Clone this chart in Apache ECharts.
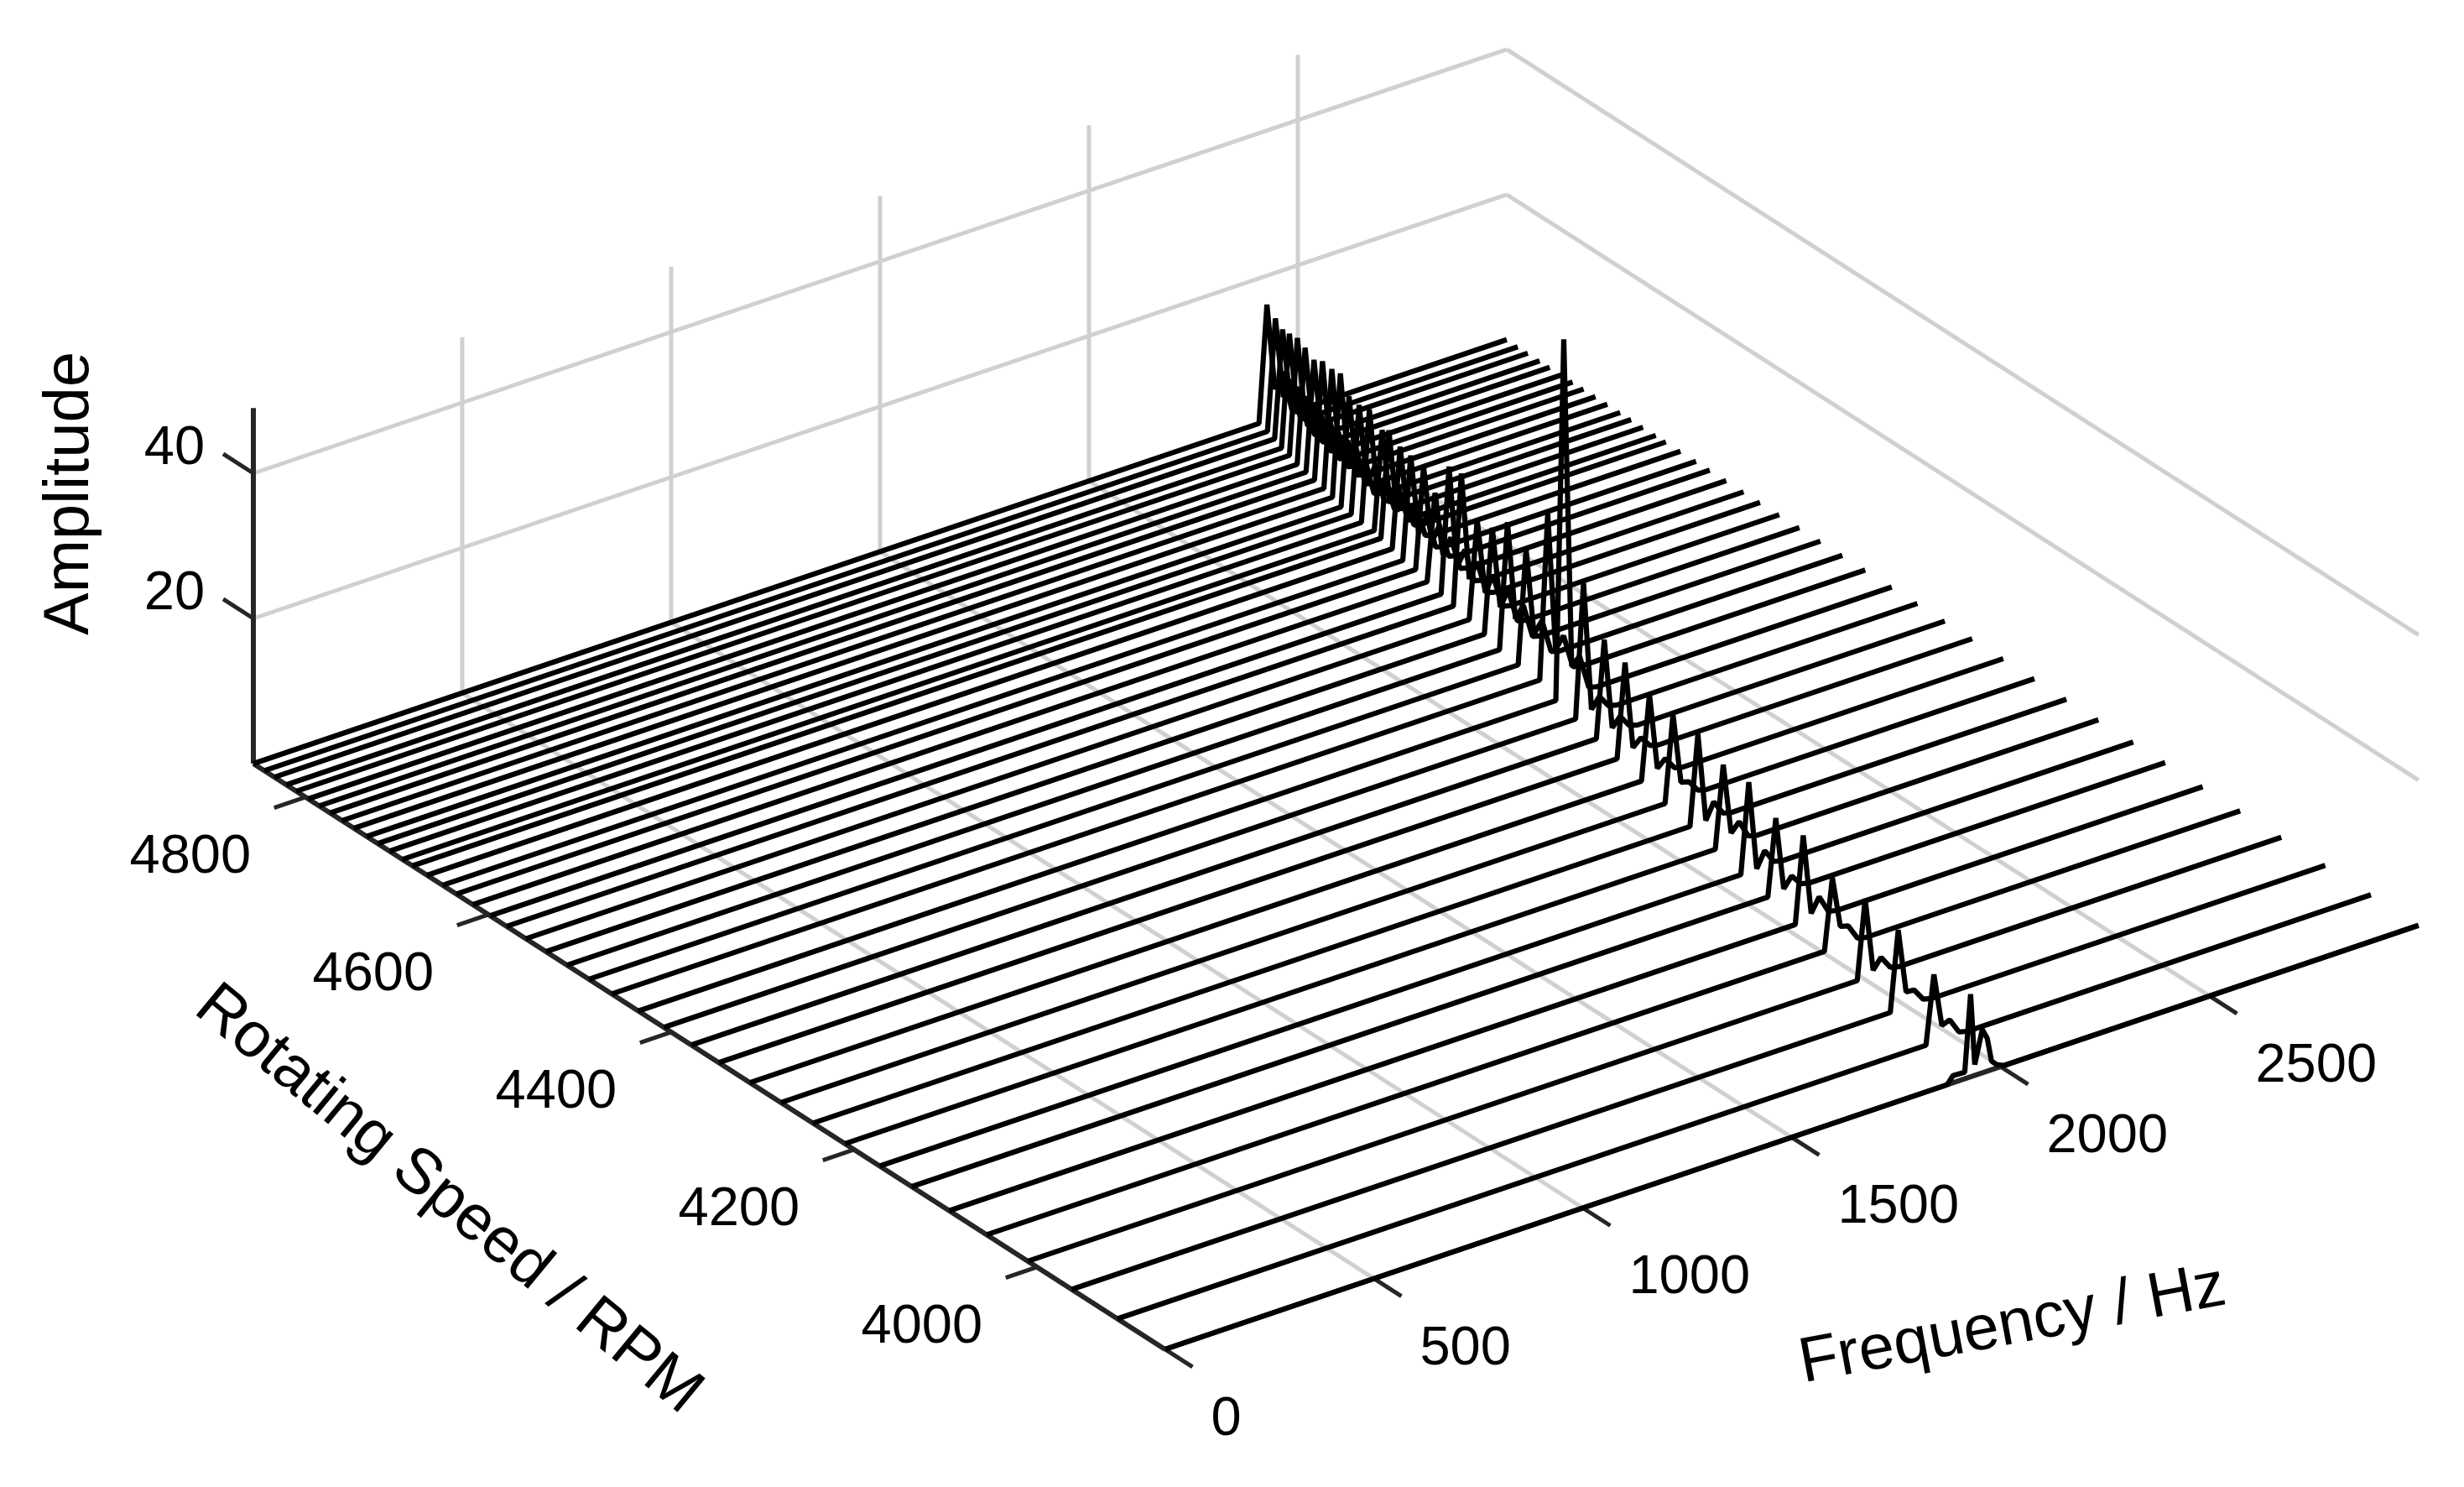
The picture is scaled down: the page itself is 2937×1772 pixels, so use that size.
<!DOCTYPE html>
<html><head><meta charset="utf-8">
<style>html,body{margin:0;padding:0;background:#fff}#c{width:2937px;height:1772px}</style>
<script src="https://cdn.jsdelivr.net/npm/echarts@6/dist/echarts.min.js"></script>
</head><body><div id="c"></div>
<script>
// ---- data ----
const rotatingSpeed = [4857,4845,4834,4821,4810,4797,4785,4773,4760,4747,4733,4721,4708,4694,4683,4667,4650,4635,4617,4598,4580,4559,4537,4514,4490,4465,4436,4408,4378,4348,4314,4280,4245,4210,4172,4137,4096,4055,4010,3962,3912];
const peakFreq = [2426,2420,2413,2401,2396,2386,2381,2375,2369,2361,2351,2349,2345,2345,2337,2329,2317,2315,2303,2295,2285,2277,2265,2251,2243,2240,2215,2201,2185,2169,2153,2135,2118,2102,2080,2068,2044,2024,2004,1978,1954];
const peakAmp = [16.0,15.2,14.7,15.4,15.8,15.7,15.1,16.0,16.1,16.7,14.9,14.7,15.2,13.5,14.5,13.7,14.1,13.9,11.9,17.2,17.9,13.4,14.3,17.2,15.6,22.6,49.4,18.4,13.3,12.9,11.6,11.9,12.4,11.3,12.4,10.5,11.9,9.8,10.9,11.0,9.4];
const valleyAmp = [4,4,4,4,4,4,4,3.5,3.5,3.5,3.5,3.5,3.5,3,3,3,3,3,3,3,3,3,3,3.5,3.5,3.5,4,0.6,0.8,0.8,1.0,2.2,0.1,1.5,0.1,0.4,0.8,2.7,0.7,2.1,2.0];
const bumpAmp = [6,6,6,6,6,6,6,5.5,5.5,5.5,5.5,5.5,5,5,5,5,5,5,5,5,5,5,5,5,5,5,5,2.0,2.0,1.8,2.0,1.9,2.3,2.7,2.2,1.8,2.7,2.4,2.1,2.0,2.4];
const shapeOffsets = [-19,0,19,38,60,80];
const lastSpeed = 3860;
const lastFreq = [0,1872,1886,1914,1928,1938,1956,1968,1978,1990,2008,3000];
const lastAmp = [0,0,1.0,0.9,11.4,1.5,6.0,4.5,1.2,0.5,0,0];
const freqTicks = [0,500,1000,1500,2000,2500];
const speedTicks = [4800,4600,4400,4200,4000];
const ampTicks = [20,40];
const freqMax = 3000, speedMax = 4857, speedMin = 3860, ampMax = 49;

// ---- 3D view: projection of (frequency, speed, amplitude) onto the page plane ----
function project(f, r, z) {
  const d = speedMax - r;
  return [302 + d * 1.09 + f * 0.498, 910 + d * 0.70 - f * 0.1684 - z * 8.65];
}
const FONT = '"Liberation Sans", Arial, sans-serif';
const GRID = '#d0d0d0', AXIS = '#262626';
function seg(name, pts, color, width, z) {
  return {type:'line', name, data:pts.map(p=>project(p[0],p[1],p[2])), showSymbol:false, silent:true,
    animation:false, clip:false, z, lineStyle:{color, width, cap:'butt', join:'bevel'}};
}
const series = [];
// back-wall and floor grid
ampTicks.forEach(a=>{
  series.push(seg('wallF'+a,[[0,speedMax,a],[freqMax,speedMax,a]],GRID,5,1));
  series.push(seg('wallR'+a,[[freqMax,speedMax,a],[freqMax,speedMin,a]],GRID,5,1));
});
freqTicks.slice(1).forEach(f=>{
  series.push(seg('wallV'+f,[[f,speedMax,0],[f,speedMax,ampMax]],GRID,5,1));
  series.push(seg('floorF'+f,[[f,speedMax,0],[f,speedMin,0]],GRID,5,1));
});
// axes and ticks
series.push(seg('axisZ',[[0,speedMax,0],[0,speedMax,ampMax]],AXIS,6,2));
series.push(seg('axisR',[[0,speedMax,0],[0,speedMin,0]],AXIS,6,2));
series.push(seg('axisF',[[0,speedMin,0],[freqMax,speedMin,0]],AXIS,6,2));
freqTicks.forEach(f=>series.push(seg('tickF'+f,[[f,speedMin,0],[f,speedMin-30,0]],AXIS,5,2)));
speedTicks.forEach(r=>series.push(seg('tickR'+r,[[0,r,0],[-75,r,0]],AXIS,5,2)));
ampTicks.forEach(a=>series.push(seg('tickZ'+a,[[0,speedMax,a],[0,speedMax+33,a]],AXIS,5,2)));
// slices
const LW = 6.2;
rotatingSpeed.forEach((r,i)=>{
  const fp = peakFreq[i];
  const amps = [0,peakAmp[i],valleyAmp[i],bumpAmp[i],0.3,0];
  const pts = [[0,r,0]];
  shapeOffsets.forEach((o,k)=>pts.push([fp+o,r,amps[k]]));
  pts.push([freqMax,r,0]);
  series.push(seg('slice'+r,pts,'#000',LW,3));
});
series.push(seg('slice'+lastSpeed,lastFreq.map((f,k)=>[f,lastSpeed,lastAmp[k]]),'#000',LW,3));
// tick labels
function labels(name, items, dx, dy, align) {
  return {type:'scatter', name, silent:true, animation:false, symbolSize:1, z:4, clip:false,
    itemStyle:{color:'transparent',opacity:1},
    data:items.map(it=>({value:it.p, label:{formatter:it.t}})),
    label:{show:true, position:'inside', offset:[dx,dy], align, verticalAlign:'middle',
      color:'#000', opacity:1, fontSize:65, fontFamily:FONT}};
}
series.push(labels('freqLabels',freqTicks.map(f=>({p:project(f,speedMin-30,0),t:String(f)})),22,63,'left'));
series.push(labels('speedLabels',speedTicks.map(r=>({p:project(-75,r,0),t:String(r)})),-100,60,'center'));
series.push(labels('ampLabels',ampTicks.map(a=>({p:project(0,speedMax+33,a),t:String(a)})),-22,-6,'right'));

const chart = echarts.init(document.getElementById('c'),null,{renderer:'canvas'});
chart.setOption({
  backgroundColor:'#fff', animation:false, legend:{show:false}, tooltip:{show:false},
  grid:{left:0,right:0,top:0,bottom:0},
  xAxis:{type:'value',min:0,max:2937,show:false},
  yAxis:{type:'value',min:0,max:1772,inverse:true,show:false},
  series,
  graphic:[
    {type:'text',x:84,y:588,rotation:Math.PI/2,z:10,style:{text:'Amplitude',font:'76px '+FONT,fill:'#000',textAlign:'center',textVerticalAlign:'middle'}},
    {type:'text',x:534,y:1430,rotation:-39.5*Math.PI/180,z:10,style:{text:'Rotating Speed / RPM',font:'76px '+FONT,fill:'#000',textAlign:'center',textVerticalAlign:'middle'}},
    {type:'text',x:2399,y:1580,rotation:10.5*Math.PI/180,z:10,style:{text:'Frequency / Hz',font:'76px '+FONT,fill:'#000',textAlign:'center',textVerticalAlign:'middle'}}
  ]
});
</script></body></html>
